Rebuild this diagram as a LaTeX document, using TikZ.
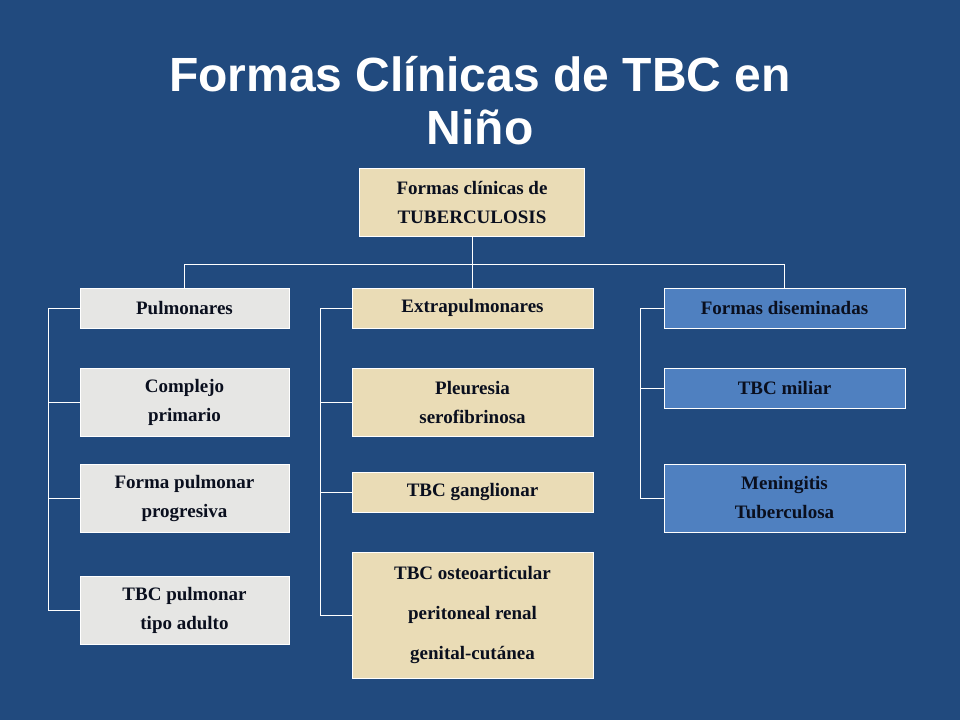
\documentclass[tikz,border=0pt]{standalone}
\usepackage{fontspec}
\setmainfont{Liberation Serif}
\newfontfamily\titlefont{Liberation Sans}
\usetikzlibrary{positioning}
\definecolor{slidebg}{HTML}{214A7E}
\definecolor{graybox}{HTML}{E6E6E4}
\definecolor{sandbox}{HTML}{EADCB6}
\definecolor{bluebox}{HTML}{4F80C0}
\definecolor{boxtext}{HTML}{0A0F1E}
\tikzset{
  box/.style={draw=white, line width=1pt, text=boxtext, align=center,
    font=\fontsize{19}{29}\selectfont\bfseries, inner sep=0pt},
  pulm/.style={box, fill=graybox},
  extra/.style={box, fill=sandbox},
  disem/.style={box, fill=bluebox},
  link/.style={draw=white, line width=0.8pt}
}
\begin{document}
\begin{tikzpicture}[x=1pt,y=-1pt]
 \fill[slidebg] (0,0) rectangle (960,720);
 \useasboundingbox (0,0) rectangle (960,720);
 \node[text=white, align=center, font=\titlefont\fontsize{48}{53}\selectfont\bfseries] (title) at (480,101) {Formas Clínicas de TBC en\\Niño};
 % top box
 \node[extra, minimum width=225, minimum height=68] (root) at (472,202) {Formas clínicas de\\TUBERCULOSIS};
 % pulmonares column
 \node[pulm, minimum width=209, minimum height=40] (pul) at (184.5,308) {Pulmonares};
 \node[pulm, minimum width=209, minimum height=68] (pul1) at (184.5,402) {Complejo\\primario};
 \node[pulm, minimum width=209, minimum height=68] (pul2) at (184.5,498) {Forma pulmonar\\progresiva};
 \node[pulm, minimum width=209, minimum height=68] (pul3) at (184.5,610) {TBC pulmonar\\tipo adulto};
 % extrapulmonares column
 \node[extra, minimum width=241, minimum height=40] (ext) at (472.5,308) {Extrapulmonares};
 \node[extra, minimum width=241, minimum height=68] (ext1) at (472.5,402) {Pleuresia\\serofibrinosa};
 \node[extra, minimum width=241, minimum height=40] (ext2) at (472.5,492) {TBC ganglionar};
 \node[extra, minimum width=241, minimum height=126, font=\fontsize{19}{40}\selectfont\bfseries] (ext3) at (472.5,615) {TBC osteoarticular\\peritoneal renal\\genital-cutánea};
 % diseminadas column
 \node[disem, minimum width=241, minimum height=40] (dis) at (784.5,308) {Formas diseminadas};
 \node[disem, minimum width=241, minimum height=40] (dis1) at (784.5,388) {TBC miliar};
 \node[disem, minimum width=241, minimum height=68] (dis2) at (784.5,498) {Meningitis\\Tuberculosa};
 %
 \coordinate (split) at (root.south |- 0,264);
 \draw[link] (root.south) -- (split);
 \draw[link] (pul.north |- split) -- (dis.north |- split);
 \foreach \n in {pul,ext,dis} \draw[link] (\n.north |- split) -- (\n.north);
 % brackets
 \foreach \c/\x/\last in {pul/48/pul3, ext/320/ext3, dis/640/dis2} {
   \draw[link] (\c.west) -- (\x,0 |- \c.west) -- (\x,0 |- \last.west) -- (\last.west);
 }
 \foreach \n/\x in {pul1/48, pul2/48, ext1/320, ext2/320, dis1/640}
   \draw[link] (\x,0 |- \n.west) -- (\n.west);
\end{tikzpicture}
\end{document}
